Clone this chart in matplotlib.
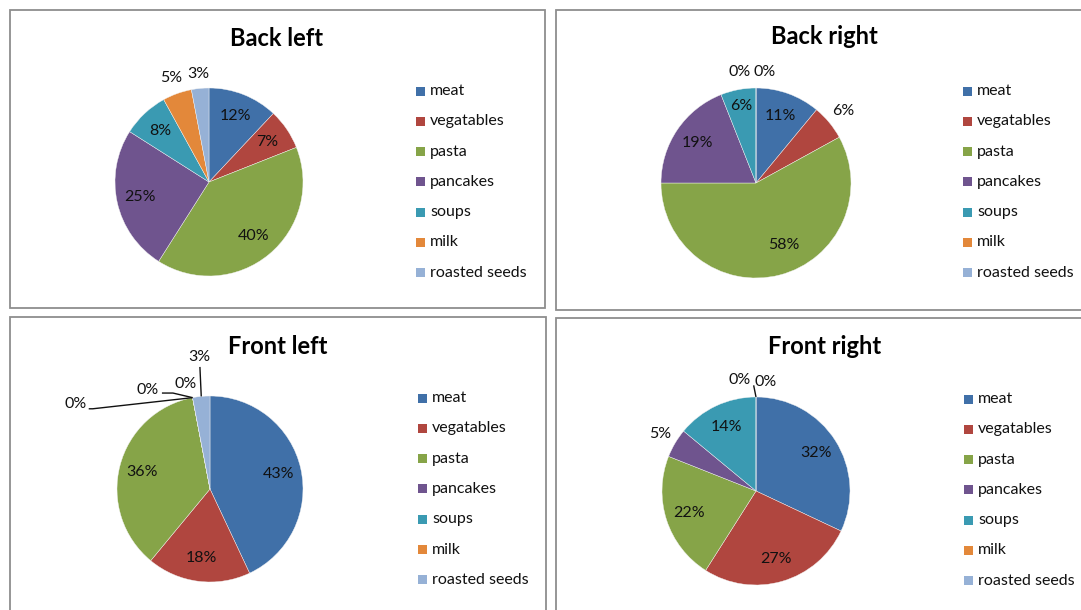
import matplotlib
matplotlib.use("Agg")
import matplotlib.pyplot as plt
from matplotlib.patches import Rectangle
import numpy as np

# ---- data -------------------------------------------------------------
categories = ["meat", "vegatables", "pasta", "pancakes", "soups", "milk", "roasted seeds"]
back_left = [12, 7, 40, 25, 8, 5, 3]
back_right = [11, 6, 58, 19, 6, 0, 0]
front_left = [43, 18, 36, 0, 0, 0, 3]
front_right = [32, 27, 22, 5, 14, 0, 0]
titles = ["Back left", "Back right", "Front left", "Front right"]

colors = ["#4070A8", "#B0463F", "#86A448", "#6F548E", "#3A9AB2", "#E3883A", "#96B1D6"]

# ---- layout (pixel units, origin top-left) ----------------------------
W, H = 1081, 610
plt.rcParams["font.family"] = ["Lato", "DejaVu Sans"]

panels = [
    dict(values=back_left, title=titles[0], box=(10, 10, 545, 308),
         center=(209, 182), r=94, title_xy=(277, 38), legend_xy=(420, 91),
         label_over={5: (None, 1.18), 6: (None, 1.15)}, leaders={}),
    dict(values=back_right, title=titles[1], box=(556, 10, 1090, 310),
         center=(756, 183), r=95, title_xy=(824, 37), legend_xy=(967, 91),
         label_over={1: (None, 1.19), 2: (156.0, 0.72), 4: (None, 0.82),
                     5: (351.8, 1.18), 6: (4.6, 1.17)}, leaders={}),
    dict(values=front_left, title=titles[2], box=(10, 317, 546, 620),
         center=(210, 489), r=93, title_xy=(278, 346), legend_xy=(422, 398),
         label_over={3: (302.4, 1.71), 4: (327.9, 1.256), 5: (347.1, 1.158),
                     6: (355.2, 1.425)},
         leaders={3: [(13, 5), (17, 5)], 4: [(14, 3), (25, 3)], 6: [(1, 10)]}),
    dict(values=front_right, title=titles[3], box=(556, 318, 1090, 620),
         center=(756, 491), r=94, title_xy=(825, 347), legend_xy=(968, 399),
         label_over={3: (None, 1.19), 5: (351.6, 1.19), 6: (5.1, 1.16)},
         leaders={5: [(14, 5)]}),
]
legend_pitch = 30.3
text_size = 11.5


def Y(y):
    return H - y


fig = plt.figure(figsize=(W / 100, H / 100), dpi=100)
fig.patch.set_facecolor("white")
ax = fig.add_axes([0, 0, 1, 1])

for p in panels:
    x0, y0, x1, y1 = p["box"]
    ax.add_patch(Rectangle((x0, Y(y1)), x1 - x0, y1 - y0, facecolor="white",
                           edgecolor="#8E8E8E", linewidth=1.3, zorder=0))

    cx, cy = p["center"]
    r = p["r"]
    vals = np.array(p["values"], dtype=float)
    wedges, _ = ax.pie(vals, colors=colors, startangle=90, counterclock=False,
                       center=(cx, Y(cy)), radius=r,
                       wedgeprops=dict(edgecolor="#F4F4F4", linewidth=0.3))

    # slice mid angles, measured clockwise from 12 o'clock
    fr = vals / vals.sum()
    cum = np.concatenate([[0], np.cumsum(fr)])
    mids = (cum[:-1] + cum[1:]) / 2 * 360.0

    for i, v in enumerate(vals):
        ang, rf = mids[i], 0.75
        if i in p["label_over"]:
            a_o, rf = p["label_over"][i]
            if a_o is not None:
                ang = a_o
        t = np.radians(ang)
        lx = cx + rf * r * np.sin(t)
        ly = cy - rf * r * np.cos(t)
        ax.text(lx, Y(ly), f"{int(round(v))}%", ha="center", va="center",
                fontsize=text_size, color="#111111", zorder=5)
        if i in p["leaders"]:
            te = np.radians(mids[i])
            ex = cx + r * np.sin(te)
            ey = cy - r * np.cos(te)
            pts = [(lx + dx, ly + dy) for dx, dy in p["leaders"][i]] + [(ex, ey)]
            xs = [q[0] for q in pts]
            ys = [Y(q[1]) for q in pts]
            ax.plot(xs, ys, color="#111111", linewidth=1.0, zorder=4,
                    solid_capstyle="butt")

    tx, ty = p["title_xy"]
    ax.text(tx, Y(ty), p["title"], ha="center", va="center", fontsize=17,
            fontweight="bold", color="black")

    lgx, lgy = p["legend_xy"]
    for k, name in enumerate(categories):
        yy = lgy + k * legend_pitch
        ax.add_patch(Rectangle((lgx - 4.5, Y(yy) - 4.5), 9, 9,
                               facecolor=colors[k], edgecolor="none", zorder=3))
        ax.text(lgx + 10, Y(yy), name, ha="left", va="center",
                fontsize=text_size, color="#111111")

ax.set_xlim(0, W)
ax.set_ylim(0, H)
ax.set_aspect("auto")
ax.axis("off")

fig.savefig("out.png", dpi=100, facecolor="white")
